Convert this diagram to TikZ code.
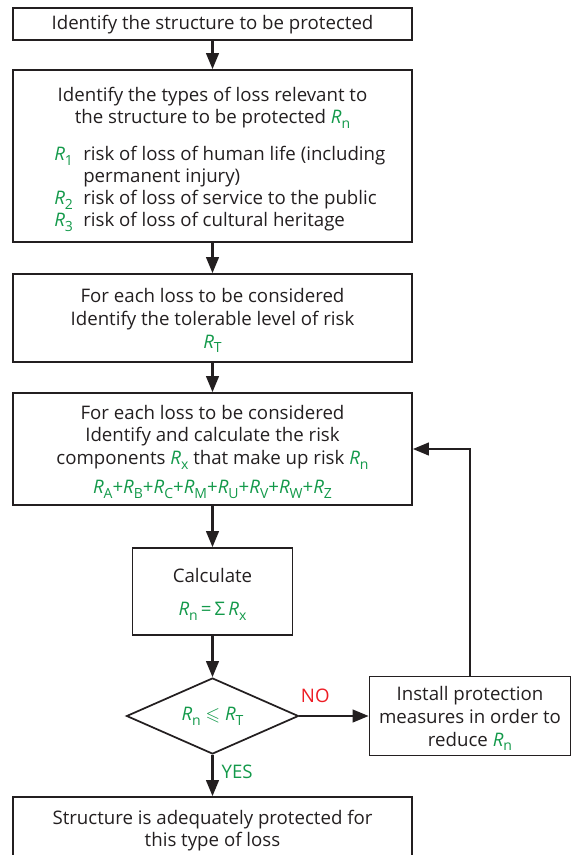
\documentclass[tikz,border=0pt]{standalone}
\usepackage{fontspec}
\setmainfont{Open Sans}
\usepackage{amssymb}
\usetikzlibrary{arrows.meta,shapes.geometric}
\definecolor{ink}{HTML}{231F20}
\definecolor{grn}{HTML}{13994A}
\definecolor{rd}{HTML}{ED1C24}
\newcommand{\Ri}[1]{\textit{R}\raisebox{-0.25em}{\fontsize{10.5}{10.5}\selectfont #1}}
\newcommand{\GR}[1]{\textcolor{grn}{\Ri{#1}}}
\begin{document}
\begin{tikzpicture}[x=0.75pt,y=-0.75pt,
  font=\fontsize{14}{17}\selectfont, text=ink,
  box/.style={draw=ink, line width=1.3pt, rectangle, inner sep=0pt},
  sized/.style 2 args={minimum width=#1*0.75pt, minimum height=#2*0.75pt},
  conn/.style={draw=ink, line width=1.6pt, -{Triangle[length=12pt,width=9.5pt]}},
  lbl/.style={inner sep=0pt},
  mid/.style={inner sep=0pt, align=center, yshift=-2pt}]
\useasboundingbox (0,0) rectangle (571,855);
\clip (0,0) rectangle (571,855);
% boxes
\node[box, sized={399}{32}] (b1) at (212.5,24) {};
\node[box, sized={399}{172}] (b2) at (212.5,156) {};
\node[box, sized={399}{88}] (b3) at (212.5,318) {};
\node[box, sized={399}{112}] (b4) at (212.5,449) {};
\node[box, sized={160}{87}] (calc) at (212.5,591.5) {};
\node[draw=ink, line width=1.3pt, diamond, inner sep=0pt, sized={172}{76}] (dia) at (212.5,716) {};
\node[box, sized={201}{79}] (inst) at (470,716) {};
\node[box, sized={399}{120}] (fin) at (212.5,857) {};
% texts
\node[lbl, anchor=base] (b1t) at (212.5,30) {Identify the structure to be protected};
\node[lbl, anchor=base] (b2h1) at (212.5,102) {Identify the types of loss relevant to};
\node[lbl, anchor=base] (b2h2) at (212.5,124) {the structure to be protected \GR{n}};
\node[lbl, anchor=base west] (r1) at (54,161) {\GR{1}};
\node[lbl, anchor=base west] (t1) at (83,161) {risk of loss of human life (including};
\node[lbl, anchor=base west] (t1b) at (83,183) {permanent injury)};
\node[lbl, anchor=base west] (r2) at (54,205) {\GR{2}};
\node[lbl, anchor=base west] (t2) at (83,205) {risk of loss of service to the public};
\node[lbl, anchor=base west] (r3) at (54,227) {\GR{3}};
\node[lbl, anchor=base west] (t3) at (83,227) {risk of loss of cultural heritage};
\node[mid] (b3t) at (b3.center) {For each loss to be considered\\Identify the tolerable level of risk\\\GR{T}};
\node[mid] (b4t) at (b4.center) {For each loss to be considered\\Identify and calculate the risk\\components \GR{x} that make up risk \GR{n}\\[5pt]\textcolor{grn}{\Ri{A}+\Ri{B}+\Ri{C}+\Ri{M}+\Ri{U}+\Ri{V}+\Ri{W}+\Ri{Z}}};
\node[mid] (calct) at (calc.center) {Calculate\\[8pt]\textcolor{grn}{\Ri{n}\,=\,Σ\,\Ri{x}}};
\node[lbl] (diatext) at (dia.center) {\textcolor{grn}{\Ri{n} $\leqslant$ \Ri{T}}};
\node[mid] (instt) at (inst.center) {Install protection\\measures in order to\\reduce \GR{n}};
\node[lbl, anchor=base] (fint1) at (212.5,824) {Structure is adequately protected for};
\node[lbl, anchor=base] (fint2) at (212.5,846) {this type of loss};
% connectors
\draw[conn] (b1) -- (b2);
\draw[conn] (b2) -- (b3);
\draw[conn] (b3) -- (b4);
\draw[conn] (b4) -- (calc);
\draw[conn] (calc) -- (dia);
\draw[conn] (dia.south) -- (fin.north) node[pos=0.42, right=6pt, lbl, text=grn] (yes) {YES};
\draw[conn] (dia.east) -- (inst.west) node[pos=0.23, above=9pt, lbl, text=rd] (no) {NO};
\draw[conn] (inst.north) |- (b4.east);
\end{tikzpicture}
\end{document}
